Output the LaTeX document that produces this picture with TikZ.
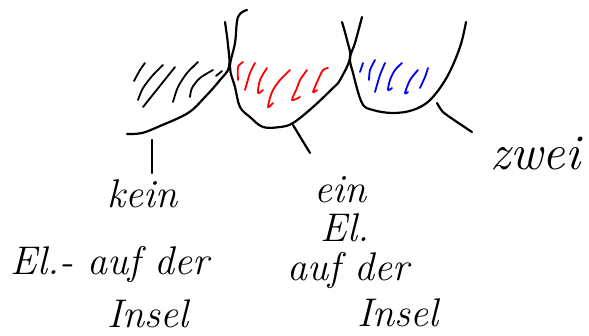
\documentclass[tikz,border=0pt]{standalone}
\usepackage{tikz}
\begin{document}
\begin{tikzpicture}[x=1pt,y=-1pt,
every node/.style={font=\fontsize{40}{44}\selectfont\itshape,inner sep=0pt},
stroke/.style={line width=2.2pt,line cap=round,line join=round},
hatch/.style={line width=1.8pt,line cap=round,line join=round}]
\useasboundingbox (0,0) rectangle (589,335);
\draw[stroke] plot[smooth,tension=.6] coordinates {(127,134)(142,133)(160,126)(188,113)(205,97)(220,80)(229,67)(228,45)(225,22)};
\draw[stroke] plot[smooth,tension=.6] coordinates {(247,10)(238,17)(235,43)(230,67)(235,87)(240,107)(250,117)(263,127)(280,127)(293,123)(313,107)(333,88)(340,80)(350,58)(347,40)(342,22)};
\draw[stroke] plot[smooth,tension=.6] coordinates {(362,17)(355,43)(350,58)(353,73)(362,103)(373,110)(393,113)(413,110)(430,100)(447,77)(460,47)(466,22)};
\draw[stroke] (152,140) -- (152,173);
\draw[stroke] (293,125) -- (310,153);
\draw[stroke] plot[smooth] coordinates {(437,103)(443,112)(457,122)(472,132)};
\draw[hatch] plot[smooth] coordinates {(145,63)(140,70)(134,81)};
\draw[hatch] plot[smooth] coordinates {(163,65)(153,75)(143,88)(138,100)};
\draw[hatch] (175,67) -- (143,107);
\draw[hatch] plot[smooth] coordinates {(198,62)(187,73)(178,87)(173,102)};
\draw[hatch] plot[smooth] coordinates {(213,70)(200,78)(192,88)(190,97)};
\draw[hatch] (222,71) -- (216,76);
\draw[hatch,red] plot[smooth] coordinates {(243,62)(238,67)(238,80)};
\draw[hatch,red] plot[smooth] coordinates {(255,63)(250,73)(245,90)};
\draw[hatch,red] plot[smooth] coordinates {(267,68)(260,80)(258,93)(263,90)};
\draw[hatch,red] plot[smooth] coordinates {(290,70)(280,80)(272,92)(268,107)(273,103)};
\draw[hatch,red] plot[smooth] coordinates {(307,70)(300,80)(297,88)(292,100)(300,97)};
\draw[hatch,red] plot[smooth] coordinates {(328,68)(323,70)(318,80)(313,92)(317,90)};
\draw[hatch,blue] (363,63) -- (360,72);
\draw[hatch,blue] plot[smooth] coordinates {(375,60)(370,70)(369,80)};
\draw[hatch,blue] plot[smooth] coordinates {(385,63)(380,75)(375,92)};
\draw[hatch,blue] plot[smooth] coordinates {(402,63)(395,70)(390,80)(388,90)(392,88)};
\draw[hatch,blue] plot[smooth] coordinates {(418,70)(410,80)(405,93)(408,92)};
\draw[hatch,blue] plot[smooth] coordinates {(428,68)(425,77)(420,88)};
\node (kein) at (142,194) {kein};
\node (elauf) at (110,264) {El.- auf der};
\node (insela) at (148,314) {Insel};
\node (ein) at (340,190) {ein};
\node (el) at (345,228) {El.};
\node (aufder) at (348,270) {auf der};
\node (inselb) at (398,313) {Insel};
\node[font=\fontsize{50}{54}\selectfont\itshape] (zwei) at (535,153) {zwei};
\end{tikzpicture}
\end{document}
